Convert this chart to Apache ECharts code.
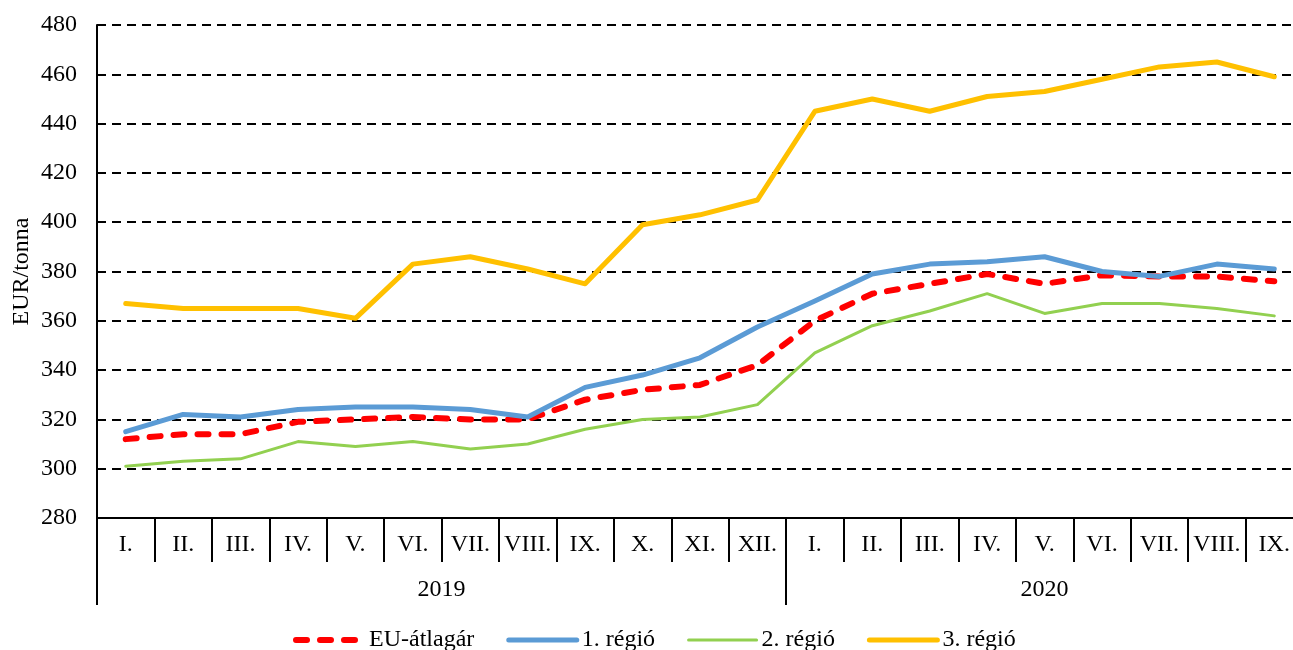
<!DOCTYPE html>
<html>
<head>
<meta charset="utf-8">
<script src="https://cdn.jsdelivr.net/npm/echarts@6/dist/echarts.min.js"></script>
<style>
html,body{margin:0;padding:0;background:#fff;}
#chart{width:1293px;height:650px;}
</style>
</head>
<body>
<div id="chart"></div>
<script>
const months = ['I.','II.','III.','IV.','V.','VI.','VII.','VIII.','IX.','X.','XI.','XII.',
                'I.','II.','III.','IV.','V.','VI.','VII.','VIII.','IX.'];
const years = ['2019','2020'];
const monthsPerYear = [12, 9];
const yTicks = {min: 280, max: 480, interval: 20};
const yName = 'EUR/tonna';
const seriesNames = ['EU-átlagár','1. régió','2. régió','3. régió'];
const euAvg   = [312,314,314,319,320,321,320,320,328,332,334,342,360,371,375,379,375,378.5,378,378,376];
const region1 = [315,322,321,324,325,325,324,321,333,338,345,357.5,368,379,383,384,386,380,378,383,381];
const region2 = [301,303,304,311,309,311,308,310,316,320,321,326,347,358,364,371,363,367,367,365,362];
const region3 = [367,365,365,365,361,383,386,381,375,399,403,409,445,450,445,451,453,458,463,465,459];

// half-month positions for the year axis
const halfSlots = [];
const yearBoundaries = [0];
let start = 0;
for (let i = 0; i <= months.length * 2; i++) halfSlots.push('');
years.forEach((y, k) => {
  halfSlots[2 * start + monthsPerYear[k]] = y;
  start += monthsPerYear[k];
  yearBoundaries.push(2 * start);
});

const font = '"Liberation Serif", "Times New Roman", serif';
const chart = echarts.init(document.getElementById('chart'), null, {renderer: 'canvas'});

function lineSeries(name, data, color, width, dash) {
  return {
    name: name, type: 'line', data: data, xAxisIndex: 0,
    symbol: 'none', smooth: false, animation: false,
    lineStyle: {color: color, width: width, type: dash || 'solid', cap: 'round', join: 'round'},
    itemStyle: {color: color}
  };
}

chart.setOption({
  backgroundColor: '#fff',
  animation: false,
  textStyle: {fontFamily: font, color: '#000'},
  grid: {left: 97, width: 1206, top: 25, height: 493, containLabel: false, outerBoundsMode: 'none'},
  legend: {
    top: 623, left: 288,
    itemWidth: 68, itemHeight: 10, itemGap: 32,
    itemStyle: {opacity: 0},
    lineStyle: {width: 'inherit'},
    textStyle: {fontFamily: font, fontSize: 24, color: '#000'},
    data: seriesNames
  },
  xAxis: [
    {
      type: 'category', data: months, boundaryGap: true, position: 'bottom', offset: 0,
      axisLine: {show: true, lineStyle: {color: '#000', width: 2}},
      axisTick: {show: true, interval: 0, length: 44, lineStyle: {color: '#000', width: 2}},
      axisLabel: {interval: 0, margin: 15, fontFamily: font, fontSize: 24, color: '#000'},
      splitLine: {show: false}
    },
    {
      type: 'category', data: halfSlots, boundaryGap: false, position: 'bottom', offset: 0,
      axisLine: {show: false},
      axisTick: {show: true, length: 87, interval: (idx) => yearBoundaries.indexOf(idx) >= 0,
                 lineStyle: {color: '#000', width: 2}},
      axisLabel: {interval: 0, margin: 60, fontFamily: font, fontSize: 24, color: '#000'},
      splitLine: {show: false}
    }
  ],
  yAxis: {
    type: 'value', min: yTicks.min, max: yTicks.max, interval: yTicks.interval,
    name: yName, nameLocation: 'middle', nameGap: 63, nameRotate: 90, nameMoveOverlap: false,
    nameTextStyle: {fontFamily: font, fontSize: 24, color: '#000'},
    axisLine: {show: true, lineStyle: {color: '#000', width: 2}},
    axisTick: {show: false},
    axisLabel: {margin: 20, fontFamily: font, fontSize: 24, color: '#000'},
    splitLine: {show: true, lineStyle: {color: '#000', width: 2, type: [9, 6]}}
  },
  series: [
    lineSeries(seriesNames[0], euAvg, '#FF0000', 6, [11, 13]),
    lineSeries(seriesNames[1], region1, '#5B9BD5', 5),
    lineSeries(seriesNames[2], region2, '#92D050', 3),
    lineSeries(seriesNames[3], region3, '#FFC000', 5)
  ]
});
</script>
</body>
</html>
